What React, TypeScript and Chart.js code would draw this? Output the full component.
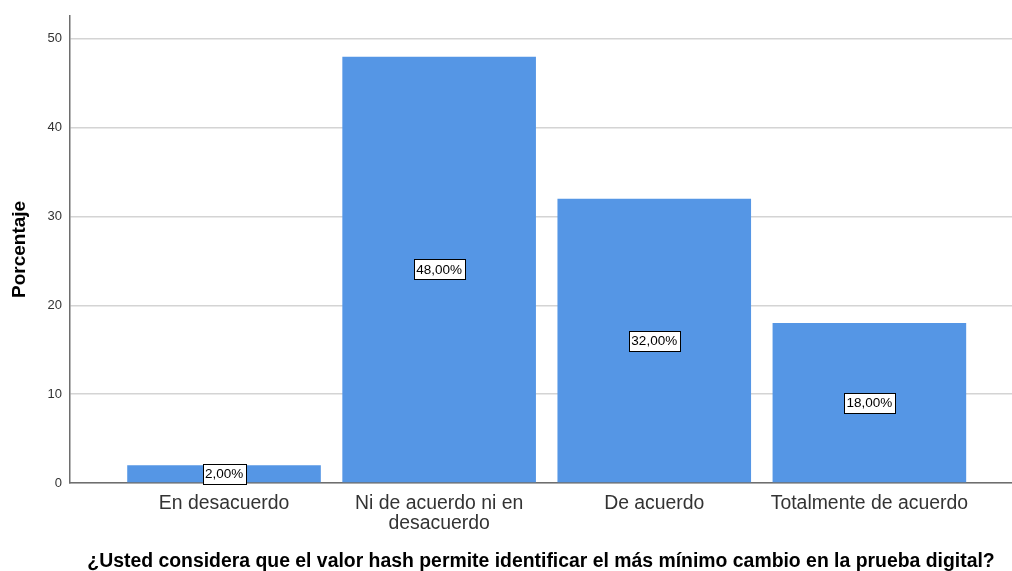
import React, { useEffect, useRef } from "react";
import { Chart, registerables } from "chart.js";

Chart.register(...registerables);

const categories: (string | string[])[] = [
  "En desacuerdo",
  ["Ni de acuerdo ni en", "desacuerdo"],
  "De acuerdo",
  "Totalmente de acuerdo",
];
const percentages = [2, 48, 32, 18];
const valueLabels = ["2,00%", "48,00%", "32,00%", "18,00%"];
const yTicks = [0, 10, 20, 30, 40, 50];
const xTitle =
  "¿Usted considera que el valor hash permite identificar el más mínimo cambio en la prueba digital?";
const yTitle = "Porcentaje";

const FONT = "'Liberation Sans', Arial, sans-serif";

const boxLabels = {
  id: "boxLabels",
  afterDatasetsDraw(chart: any) {
    const ctx = chart.ctx;
    const meta = chart.getDatasetMeta(0);
    ctx.save();
    ctx.font = `13.5px ${FONT}`;
    ctx.textAlign = "center";
    ctx.textBaseline = "middle";
    meta.data.forEach((bar: any, i: number) => {
      const text = valueLabels[i];
      const cx = bar.x;
      const cy = (bar.y + bar.base) / 2;
      const w = Math.round(ctx.measureText(text).width + 5);
      const h = 20;
      const x0 = Math.round(cx - w / 2) + 0.5;
      const y0 = Math.round(cy - h / 2) + 0.5;
      ctx.fillStyle = "#ffffff";
      ctx.fillRect(x0, y0, w, h);
      ctx.strokeStyle = "#000000";
      ctx.lineWidth = 1;
      ctx.strokeRect(x0, y0, w, h);
      ctx.fillStyle = "#000000";
      ctx.fillText(text, cx, cy + 1);
    });
    ctx.restore();
  },
};

export default function App() {
  const ref = useRef<HTMLCanvasElement | null>(null);
  useEffect(() => {
    if (!ref.current) return;
    const chart = new Chart(ref.current, {
      type: "bar",
      data: {
        datasets: [
          {
            data: percentages.map((v, i) => ({ x: i, y: v })),
            backgroundColor: "#5596e5",
            borderWidth: 0,
            barPercentage: 0.9,
            categoryPercentage: 1.0,
          },
        ],
      },
      options: {
        animation: false,
        responsive: true,
        maintainAspectRatio: false,
        layout: { padding: { top: 15, right: 0, left: 0, bottom: 0 } },
        plugins: { legend: { display: false }, tooltip: { enabled: false } },
        scales: {
          x: {
            type: "linear",
            offset: false,
            min: -0.716,
            max: 3.663,
            grid: { display: false, drawTicks: false, offset: false },
            border: { display: true, color: "#6e6e6e", width: 1.5 },
            afterBuildTicks: (scale: any) => {
              scale.ticks = categories.map((_, i) => ({ value: i }));
            },
            afterFit: (scale: any) => {
              scale.height = 88;
            },
            ticks: {
              autoSkip: false,
              maxRotation: 0,
              padding: 10,
              color: "#333333",
              font: { family: FONT, size: 19.4, lineHeight: 1.05 },
              callback: (v: any) => categories[Math.round(v)],
            },
            title: {
              display: true,
              text: xTitle,
              color: "#000000",
              font: { family: FONT, size: 19.4, weight: "bold", lineHeight: 1.0 },
              padding: { top: 4, bottom: 0 },
            },
          },
          y: {
            type: "linear",
            min: 0,
            max: 52.6,
            afterBuildTicks: (scale: any) => {
              scale.ticks = yTicks.map((v) => ({ value: v }));
            },
            afterFit: (scale: any) => {
              scale.width = 70;
            },
            grid: { color: "#d4d4d4", lineWidth: 1.5, drawTicks: false },
            border: { display: true, color: "#6e6e6e", width: 1.5 },
            ticks: {
              padding: 8,
              color: "#333333",
              font: { family: FONT, size: 13 },
            },
            title: {
              display: true,
              text: yTitle,
              color: "#000000",
              font: { family: FONT, size: 19, weight: "bold" },
              padding: { top: 8, bottom: 4 },
            },
          },
        },
      },
      plugins: [boxLabels],
    } as any);
    return () => chart.destroy();
  }, []);
  return (
    <div style={{ position: "fixed", left: 0, top: 0, width: 1012, height: 571, background: "#fff" }}>
      <canvas ref={ref} />
    </div>
  );
}
